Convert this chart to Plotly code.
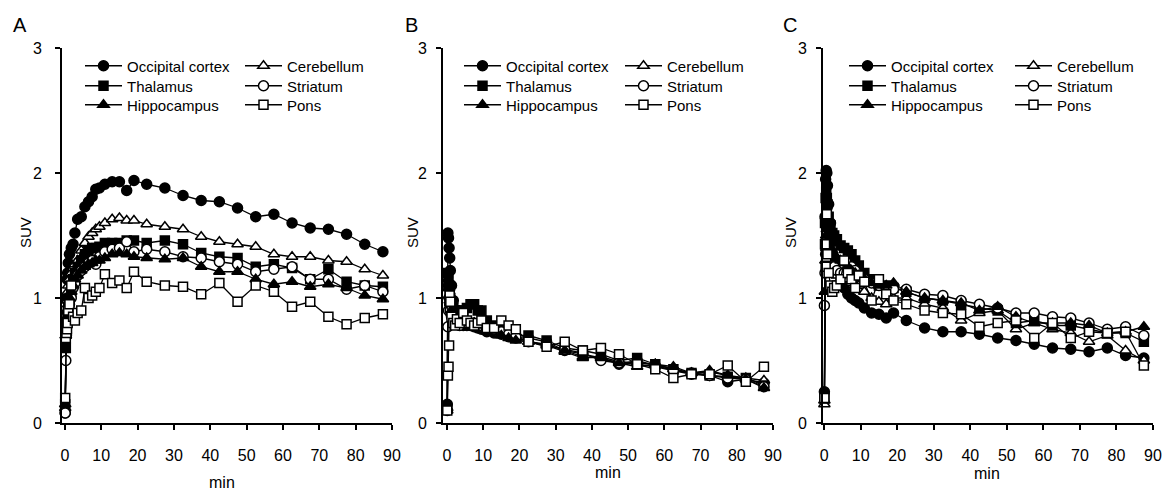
import plotly.graph_objects as go

# ---------------- data ----------------
time_min = [0.08, 0.25, 0.42, 0.58, 0.75, 0.92, 1.25, 1.75, 2.25, 2.75,
            3.5, 4.5, 5.5, 6.5, 7.5, 8.5, 9.5, 11, 13, 15, 17, 19,
            22.5, 27.5, 32.5, 37.5, 42.5, 47.5, 52.5, 57.5, 62.5, 67.5,
            72.5, 77.5, 82.5, 87.5]

regions = ["Occipital cortex", "Cerebellum", "Thalamus", "Striatum", "Hippocampus", "Pons"]
panel_labels = ["A", "B", "C"]
x_ticks = [0, 10, 20, 30, 40, 50, 60, 70, 80, 90]
y_ticks = [0, 1, 2, 3]

A_occipital = [0.08, 0.75, 1.0, 1.15, 1.2, 1.28, 1.35, 1.40, 1.43, 1.52, 1.63, 1.65, 1.73, 1.77, 1.81, 1.87, 1.88, 1.91, 1.93, 1.93, 1.86, 1.94,
               1.91, 1.88, 1.82, 1.78, 1.77, 1.72, 1.65, 1.67, 1.60, 1.56, 1.55, 1.51, 1.43, 1.37]
A_cerebellum = [0.12, 0.7, 0.9, 0.98, 1.05, 1.1, 1.15, 1.2, 1.24, 1.27, 1.3, 1.38, 1.44, 1.49, 1.52, 1.55, 1.57, 1.60, 1.63, 1.64, 1.62, 1.62,
                1.59, 1.57, 1.55, 1.49, 1.45, 1.43, 1.41, 1.35, 1.33, 1.33, 1.30, 1.29, 1.23, 1.18]
A_thalamus = [0.15, 0.6, 0.73, 0.8, 0.85, 0.93, 1.0, 1.05, 1.15, 1.2, 1.25, 1.30, 1.35, 1.38, 1.40, 1.40, 1.41, 1.44, 1.44, 1.44, 1.46, 1.46,
              1.44, 1.46, 1.43, 1.36, 1.33, 1.32, 1.25, 1.27, 1.24, 1.15, 1.23, 1.13, 1.10, 1.09]
A_striatum = [0.08, 0.5, 0.7, 0.8, 0.88, 0.92, 0.95, 1.0, 1.08, 1.12, 1.18, 1.22, 1.25, 1.28, 1.30, 1.27, 1.33, 1.37, 1.39, 1.40, 1.45, 1.37,
              1.39, 1.37, 1.33, 1.32, 1.29, 1.27, 1.21, 1.23, 1.25, 1.15, 1.15, 1.07, 1.10, 1.05]
A_hippocampus = [0.15, 0.7, 0.8, 0.85, 0.9, 0.95, 1.0, 1.05, 1.1, 1.15, 1.18, 1.22, 1.25, 1.27, 1.28, 1.30, 1.30, 1.32, 1.35, 1.36, 1.35, 1.33,
                 1.32, 1.31, 1.32, 1.25, 1.21, 1.21, 1.15, 1.11, 1.13, 1.09, 1.11, 1.08, 1.02, 0.99]
A_pons = [0.2, 0.68, 0.72, 0.75, 0.8, 0.9, 0.95, 1.1, 0.85, 0.82, 0.88, 0.9, 1.08, 1.0, 1.02, 1.05, 1.08, 1.19, 1.12, 1.14, 1.08, 1.21,
          1.13, 1.10, 1.09, 1.03, 1.12, 0.97, 1.10, 1.05, 0.93, 0.97, 0.85, 0.79, 0.84, 0.87]

B_occipital = [0.15, 1.52, 1.48, 1.40, 1.32, 1.22, 1.1, 0.98, 0.9, 0.85, 0.8, 0.78, 0.78, 0.78, 0.77, 0.76, 0.75, 0.73, 0.72, 0.71, 0.69, 0.68,
               0.68, 0.65, 0.58, 0.55, 0.52, 0.47, 0.5, 0.46, 0.42, 0.4, 0.38, 0.33, 0.35, 0.32]
B_cerebellum = [0.1, 1.1, 1.08, 1.02, 0.98, 0.92, 0.88, 0.85, 0.82, 0.8, 0.8, 0.82, 0.8, 0.8, 0.8, 0.78, 0.78, 0.76, 0.74, 0.72, 0.7, 0.68,
                0.65, 0.62, 0.57, 0.52, 0.53, 0.49, 0.48, 0.47, 0.43, 0.4, 0.41, 0.38, 0.36, 0.34]
B_thalamus = [0.12, 1.2, 1.15, 1.1, 1.05, 1.0, 0.95, 0.92, 0.9, 0.88, 0.9, 0.9, 0.92, 0.95, 0.95, 0.9, 0.9, 0.82, 0.78, 0.75, 0.72, 0.70,
              0.70, 0.66, 0.60, 0.58, 0.55, 0.50, 0.52, 0.47, 0.43, 0.40, 0.38, 0.37, 0.36, 0.30]
B_striatum = [0.1, 0.77, 0.9, 1.0, 0.95, 0.9, 0.85, 0.82, 0.8, 0.8, 0.78, 0.8, 0.8, 0.8, 0.78, 0.78, 0.78, 0.76, 0.75, 0.73, 0.71, 0.69,
              0.65, 0.62, 0.59, 0.56, 0.50, 0.48, 0.47, 0.45, 0.42, 0.39, 0.38, 0.36, 0.35, 0.29]
B_hippocampus = [0.12, 1.15, 1.12, 1.08, 1.02, 0.96, 0.9, 0.86, 0.84, 0.82, 0.82, 0.82, 0.82, 0.8, 0.8, 0.8, 0.78, 0.76, 0.74, 0.7, 0.68, 0.66,
                 0.65, 0.63, 0.58, 0.53, 0.52, 0.48, 0.45, 0.47, 0.45, 0.40, 0.42, 0.38, 0.35, 0.28]
B_pons = [0.1, 0.38, 0.45, 0.62, 1.02, 0.97, 0.85, 0.8, 0.78, 0.83, 0.8, 0.88, 0.82, 0.8, 0.78, 0.8, 0.82, 0.76, 0.76, 0.82, 0.78, 0.75,
          0.65, 0.61, 0.65, 0.58, 0.60, 0.55, 0.47, 0.43, 0.36, 0.39, 0.39, 0.46, 0.33, 0.45]

C_occipital = [0.25, 1.65, 1.95, 2.02, 2.0, 1.9, 1.75, 1.6, 1.45, 1.3, 1.2, 1.12, 1.08, 1.03, 1.0, 0.98, 0.96, 0.92, 0.88, 0.87, 0.84, 0.88,
               0.82, 0.76, 0.73, 0.73, 0.71, 0.68, 0.66, 0.63, 0.60, 0.59, 0.57, 0.60, 0.54, 0.52]
C_cerebellum = [0.15, 1.05, 1.3, 1.4, 1.42, 1.4, 1.35, 1.3, 1.25, 1.2, 1.18, 1.15, 1.15, 1.15, 1.12, 1.1, 1.1, 1.05, 1.0, 0.97, 0.95, 1.0,
                1.0, 0.95, 0.92, 0.82, 0.88, 0.9, 0.75, 0.8, 0.75, 0.72, 0.65, 0.7, 0.58, 0.5]
C_thalamus = [0.2, 1.6, 1.8, 1.85, 1.8, 1.75, 1.65, 1.58, 1.52, 1.5, 1.47, 1.42, 1.4, 1.38, 1.35, 1.3, 1.26, 1.2, 1.15, 1.1, 1.1, 1.08,
              1.05, 1.0, 0.98, 0.95, 0.92, 0.9, 0.8, 0.82, 0.78, 0.78, 0.75, 0.72, 0.72, 0.65]
C_striatum = [0.94, 1.2, 1.35, 1.4, 1.38, 1.35, 1.3, 1.28, 1.25, 1.25, 1.22, 1.2, 1.2, 1.22, 1.25, 1.22, 1.18, 1.15, 1.12, 1.1, 1.08, 1.07,
              1.07, 1.03, 1.02, 0.98, 0.95, 0.92, 0.88, 0.88, 0.85, 0.84, 0.8, 0.75, 0.77, 0.7]
C_hippocampus = [0.18, 1.05, 1.3, 1.5, 1.55, 1.5, 1.45, 1.4, 1.38, 1.35, 1.32, 1.3, 1.28, 1.25, 1.22, 1.2, 1.18, 1.15, 1.12, 1.1, 1.1, 1.12,
                 1.05, 1.0, 0.98, 0.96, 0.9, 0.93, 0.85, 0.8, 0.8, 0.8, 0.78, 0.72, 0.73, 0.77]
C_pons = [0.2, 1.43, 1.25, 1.33, 1.67, 1.35, 1.2, 1.1, 1.05, 1.08, 1.1, 1.15, 1.3, 1.2, 1.15, 1.08, 1.18, 1.13, 0.98, 1.15, 1.03, 0.98,
          0.95, 0.9, 0.88, 0.87, 0.77, 0.8, 0.82, 0.68, 0.8, 0.68, 0.73, 0.72, 0.73, 0.46]

panel_series = [
    [A_occipital, A_cerebellum, A_thalamus, A_striatum, A_hippocampus, A_pons],
    [B_occipital, B_cerebellum, B_thalamus, B_striatum, B_hippocampus, B_pons],
    [C_occipital, C_cerebellum, C_thalamus, C_striatum, C_hippocampus, C_pons],
]

# ---------------- style ----------------
W, H = 1165, 490
FONT = "Liberation Sans, Arial, sans-serif"
styles = [
    dict(symbol="circle", size=10, fill="black"),
    dict(symbol="triangle-up", size=10, fill="white"),
    dict(symbol="square", size=9, fill="black"),
    dict(symbol="circle", size=10, fill="white"),
    dict(symbol="triangle-up", size=10, fill="black"),
    dict(symbol="square", size=9, fill="white"),
]

# pixel geometry of each panel: axis-left px, x=90 px, x range start
panels_px = [(62, 392, -0.8), (443, 773, -1.1), (823, 1153, -0.3)]
legend_cols_px = [(80, 240), (459, 620), (844, 1010)]
legend_rows_px = [66, 86, 105]
y_top_px, y_bot_px = 48, 423

fig = go.Figure()

leg_n = 0
layout = dict(
    width=W, height=H,
    margin=dict(l=0, r=0, t=0, b=0, autoexpand=False),
    paper_bgcolor="white", plot_bgcolor="white",
    font=dict(family=FONT, color="black", size=15),
    showlegend=True,
    annotations=[],
)

for p in range(3):
    ax = "" if p == 0 else str(p + 1)
    for s, vals in enumerate(panel_series[p]):
        st = styles[s]
        leg_n += 1
        key = "legend" if leg_n == 1 else "legend%d" % leg_n
        fig.add_trace(go.Scatter(
            x=time_min, y=vals, name=regions[s],
            mode="lines+markers",
            line=dict(color="black", width=1.3),
            marker=dict(symbol=st["symbol"], size=st["size"], color=st["fill"],
                        line=dict(color="black", width=1.5)),
            xaxis="x" + ax, yaxis="y" + ax,
            legend=key, showlegend=True,
            cliponaxis=False,
        ))
        lx = legend_cols_px[p][s % 2]
        ly = legend_rows_px[s // 2]
        layout[key] = dict(
            x=lx / W, y=(H - ly) / H, xanchor="left", yanchor="middle",
            bgcolor="rgba(0,0,0,0)", borderwidth=0, visible=True,
            font=dict(size=15, family=FONT, color="black"),
            itemwidth=37, itemclick=False, itemdoubleclick=False,
        )

for p in range(3):
    ax = "" if p == 0 else str(p + 1)
    left, right, x0 = panels_px[p]
    layout["xaxis" + ax] = dict(
        domain=[left / W, right / W], range=[x0, 90],
        tickvals=x_ticks, ticks="outside", ticklen=5, tickwidth=1.5, tickcolor="black",
        showline=True, linecolor="black", linewidth=2, showgrid=False, zeroline=False,
        tickfont=dict(size=16, family=FONT, color="black"), ticklabelstandoff=12,
        anchor="y" + ax, fixedrange=True, automargin=False,
    )
    layout["yaxis" + ax] = dict(
        domain=[(H - y_bot_px) / H, (H - y_top_px) / H], range=[0, 3],
        tickvals=y_ticks, ticks="outside", ticklen=5, tickwidth=1.5, tickcolor="black",
        showline=True, linecolor="black", linewidth=2, showgrid=False, zeroline=False,
        tickfont=dict(size=16, family=FONT, color="black"), ticklabelstandoff=10 if p == 0 else 6,
        anchor="x" + ax, fixedrange=True, automargin=False,
    )
    layout["annotations"] += [
        dict(text=panel_labels[p], x=[20, 411, 790][p] / W, y=(H - 25) / H, xref="paper", yref="paper",
             showarrow=False, font=dict(size=20, family=FONT, color="black"), xanchor="center", yanchor="middle"),
        dict(text="SUV", x=[25, 412, 790][p] / W, y=(H - 233) / H, xref="paper", yref="paper", textangle=-90,
             showarrow=False, font=dict(size=15, family=FONT, color="black"), xanchor="center", yanchor="middle"),
        dict(text="min", x=[222, 608, 987][p] / W, y=(H - [482, 472, 473][p]) / H, xref="paper", yref="paper",
             showarrow=False, font=dict(size=16, family=FONT, color="black"), xanchor="center", yanchor="middle"),
    ]

fig.update_layout(**layout)
fig.write_html("out.html", config={"displayModeBar": False},
               post_script="document.body.style.margin='0';document.body.style.overflow='hidden';")
